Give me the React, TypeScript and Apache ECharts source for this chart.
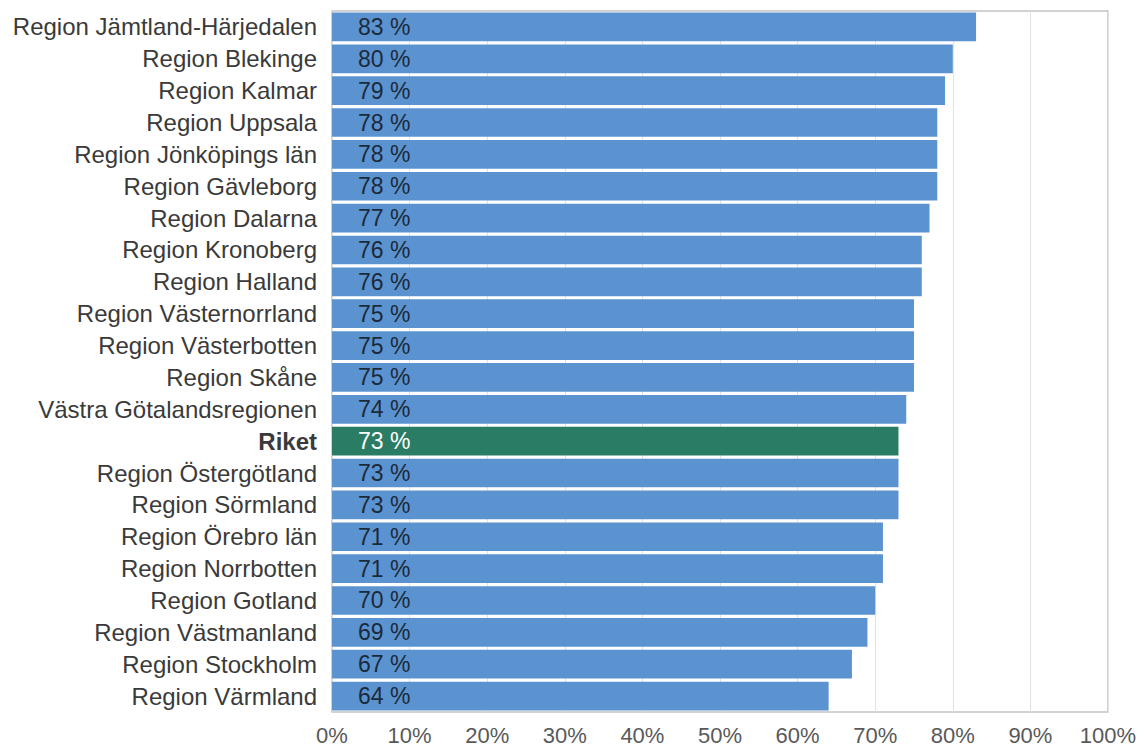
import React, { useEffect, useRef } from "react";
import * as echarts from "echarts";

const categories = [
  "Region Jämtland-Härjedalen",
  "Region Blekinge",
  "Region Kalmar",
  "Region Uppsala",
  "Region Jönköpings län",
  "Region Gävleborg",
  "Region Dalarna",
  "Region Kronoberg",
  "Region Halland",
  "Region Västernorrland",
  "Region Västerbotten",
  "Region Skåne",
  "Västra Götalandsregionen",
  "Riket",
  "Region Östergötland",
  "Region Sörmland",
  "Region Örebro län",
  "Region Norrbotten",
  "Region Gotland",
  "Region Västmanland",
  "Region Stockholm",
  "Region Värmland",
];
const values = [83, 80, 79, 78, 78, 78, 77, 76, 76, 75, 75, 75, 74, 73, 73, 73, 71, 71, 70, 69, 67, 64];
const highlight = "Riket";
const xTicks = [0, 10, 20, 30, 40, 50, 60, 70, 80, 90, 100];

const FONT = "Liberation Sans, Arial, sans-serif";

export default function App() {
  const ref = useRef<HTMLDivElement>(null);
  useEffect(() => {
    const chart = echarts.init(ref.current!, null, { renderer: "svg" });
    const cats = [...categories].reverse();
    const vals = [...values].reverse();
    chart.setOption({
      animation: false,
      grid: {
        left: 332,
        right: 32,
        top: 11,
        bottom: 37,
        show: true,
        borderColor: "#c4c4c4",
        borderWidth: 1.5,
        containLabel: false,
        outerBoundsMode: "none",
      },
      xAxis: {
        type: "value",
        min: 0,
        max: 100,
        interval: 10,
        axisLine: { show: false },
        axisTick: { show: false },
        splitLine: { show: true, lineStyle: { color: "#e2e2e2", width: 1 } },
        axisLabel: {
          formatter: (v: number) => (xTicks.includes(v) ? `${v}%` : ""),
          fontSize: 22,
          color: "#595959",
          fontFamily: FONT,
          margin: 12,
        },
      },
      yAxis: {
        type: "category",
        data: cats,
        axisLine: { show: false },
        axisTick: { show: false },
        axisLabel: {
          fontSize: 24,
          color: "#3a3a3a",
          margin: 15,
          fontFamily: FONT,
          formatter: (v: string) => (v === highlight ? `{b|${v}}` : v),
          rich: { b: { fontWeight: "bold", fontSize: 24, color: "#3a3a3a", fontFamily: FONT } },
        },
      },
      series: [
        {
          type: "bar",
          data: cats.map((c, i) => ({
            value: vals[i],
            itemStyle: { color: c === highlight ? "#2a7d64" : "#5b93d0" },
            label: { color: c === highlight ? "#ffffff" : "#1b2a3a" },
          })),
          barCategoryGap: "10%",
          label: {
            show: true,
            position: [26, "50%"],
            verticalAlign: "middle",
            formatter: (p: any) => `${p.value} %`,
            fontSize: 23,
            fontFamily: FONT,
          },
        },
      ],
    });
    return () => chart.dispose();
  }, []);
  return (
    <div
      ref={ref}
      style={{ position: "fixed", left: 0, top: 0, width: 1140, height: 749, background: "#ffffff" }}
    />
  );
}
